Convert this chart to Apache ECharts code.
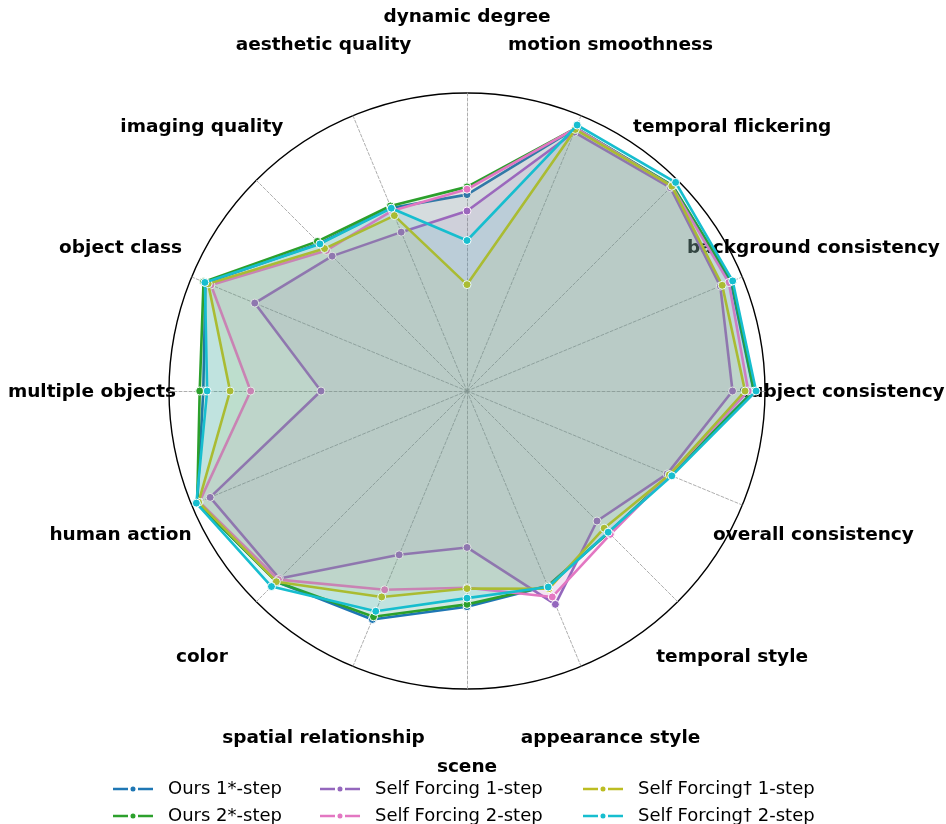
<!DOCTYPE html>
<html>
<head>
<meta charset="utf-8">
<script src="https://cdn.jsdelivr.net/npm/echarts@6/dist/echarts.min.js"></script>
<style>
  html, body { margin: 0; padding: 0; background: #fff; }
  #main { width: 946px; height: 824px; }
</style>
</head>
<body>
<div id="main"></div>
<script>
// axes listed clockwise from the top, like the picture
var axisNames = ['dynamic degree', 'motion smoothness', 'temporal flickering', 'background consistency',
  'subject consistency', 'overall consistency', 'temporal style', 'appearance style', 'scene',
  'spatial relationship', 'color', 'human action', 'multiple objects', 'object class',
  'imaging quality', 'aesthetic quality'];

var ours1 = [0.659, 0.955, 0.975, 0.958, 0.962, 0.738, 0.672, 0.708, 0.724, 0.830, 0.905, 0.980, 0.885, 0.950, 0.700, 0.665];
var ours2 = [0.685, 0.955, 0.975, 0.962, 0.963, 0.738, 0.672, 0.708, 0.716, 0.820, 0.905, 0.980, 0.897, 0.957, 0.710, 0.672];
var sf1 = [0.604, 0.940, 0.965, 0.920, 0.891, 0.727, 0.617, 0.775, 0.525, 0.595, 0.890, 0.933, 0.490, 0.771, 0.640, 0.577];
var sf2 = [0.677, 0.955, 0.972, 0.951, 0.944, 0.735, 0.680, 0.748, 0.660, 0.722, 0.895, 0.972, 0.726, 0.930, 0.667, 0.655];
var sfd1 = [0.357, 0.950, 0.972, 0.927, 0.933, 0.735, 0.651, 0.718, 0.663, 0.748, 0.905, 0.975, 0.795, 0.940, 0.676, 0.637];
var sfd2 = [0.505, 0.966, 0.990, 0.965, 0.970, 0.744, 0.670, 0.712, 0.695, 0.800, 0.928, 0.983, 0.872, 0.952, 0.698, 0.664];

var seriesNames = ['Ours 1*-step', 'Ours 2*-step', 'Self Forcing 1-step', 'Self Forcing 2-step',
  'Self Forcing\u2020 1-step', 'Self Forcing\u2020 2-step'];
var seriesData = [ours1, ours2, sf1, sf2, sfd1, sfd2];
var colors = ['#1f77b4', '#2ca02c', '#9467bd', '#e377c2', '#bcbd22', '#17becf'];

var cx = 467, cy = 391, R = 298, labelR = 375;
var font = 'DejaVu Sans';

// echarts radar goes counter-clockwise, so reverse everything after the first axis
function ccw(arr) {
  return [arr[0]].concat(arr.slice(1).reverse());
}

var indicators = ccw(axisNames).map(function (n) {
  return { name: n, min: 0, max: 1 };
});

var series = seriesData.map(function (vals, i) {
  return {
    type: 'radar',
    name: seriesNames[i],
    z: 2 + i,
    symbol: 'circle',
    symbolSize: 8,
    itemStyle: { color: colors[i], borderColor: '#fff', borderWidth: 1 },
    lineStyle: { color: colors[i], width: 2.6 },
    areaStyle: { color: colors[i], opacity: 0.1 },
    data: [{ value: ccw(vals), name: seriesNames[i] }]
  };
});

// axis labels centred on a ring outside the plot, as matplotlib does
var labels = axisNames.map(function (n, k) {
  var a = k * Math.PI * 2 / axisNames.length;
  return {
    type: 'text',
    z: 0,
    x: cx + labelR * Math.sin(a),
    y: cy - labelR * Math.cos(a) + 1,
    style: {
      text: n, fill: '#000', font: 'bold 18.5px "' + font + '"',
      align: 'center', verticalAlign: 'middle'
    }
  };
});

// line - dot - line marker like matplotlib's legend handle
var legendIcon = 'path://M0,1.25 L15,1.25 L15,3.75 L0,3.75 Z M25,1.25 L40,1.25 L40,3.75 L25,3.75 Z M17.5,2.5 A2.5,2.5 0 1,0 22.5,2.5 A2.5,2.5 0 1,0 17.5,2.5 Z';
var legendCols = [[0, 1], [2, 3], [4, 5]];
var legendLeft = [113, 320, 583];
var legends = legendCols.map(function (idx, c) {
  return {
    orient: 'vertical',
    left: legendLeft[c],
    top: 780,
    height: 60,
    padding: 0,
    itemWidth: 40,
    itemHeight: 5,
    itemGap: 9,
    icon: legendIcon,
    itemStyle: { borderWidth: 0 },
    textStyle: { fontFamily: font, fontSize: 18, color: '#000', padding: [0, 0, 0, 10] },
    data: idx.map(function (i) { return seriesNames[i]; })
  };
});

var chart = echarts.init(document.getElementById('main'));
chart.setOption({
  animation: false,
  backgroundColor: '#fff',
  legend: legends,
  radar: {
    center: [cx, cy],
    radius: R,
    startAngle: 90,
    shape: 'circle',
    splitNumber: 1,
    indicator: indicators,
    axisName: { show: false },
    axisLine: { lineStyle: { color: '#999', width: 0.8, type: [3, 2] } },
    splitLine: { lineStyle: { color: '#000', width: 1.4 } },
    splitArea: { show: false }
  },
  graphic: labels,
  series: series
});
</script>
</body>
</html>
